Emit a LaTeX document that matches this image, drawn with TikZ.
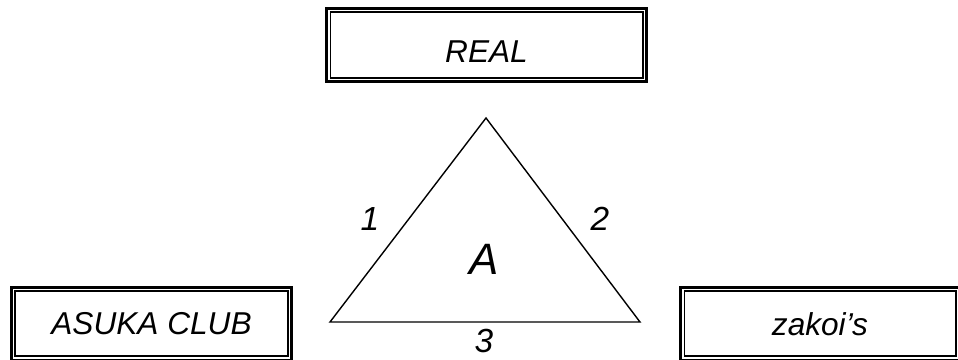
\documentclass[tikz,border=0pt]{standalone}
\usepackage{fontspec}
\setmainfont{Liberation Sans}
\usepackage{tikz}
\usetikzlibrary{positioning}
\tikzset{
  framebox/.style={draw, line width=1.7pt, inner sep=0pt, outer sep=0pt, align=center,
    font=\fontsize{18}{21}\selectfont\itshape},
  innerframe/.style={line width=1pt},
  sidelabel/.style={inner sep=0pt, font=\fontsize{19}{22}\selectfont\itshape},
  triline/.style={line width=0.8pt, line join=miter}
}

\begin{document}
\begin{tikzpicture}[x=0.02cm, y=-0.02cm]
  \clip (0,0) rectangle (958,359);
  \node[framebox, minimum width=6.4cm, minimum height=1.46cm, text height=0.70cm, text depth=0pt] (real) at (486.5,45) {REAL};
  \node[framebox, minimum width=5.6cm, minimum height=1.45cm] (asuka) at (151.5,323.75) {ASUKA CLUB};
  \node[framebox, minimum width=5.58cm, minimum height=1.45cm] (zakoi) at (820,323.75) {zakoi's};
  \foreach \frm in {real, asuka, zakoi}
    \draw[innerframe] ([shift={(0.077cm,-0.077cm)}]\frm.north west) rectangle ([shift={(-0.077cm,0.077cm)}]\frm.south east);
  % triangle
  \coordinate (apex) at (486,118);
  \coordinate (left) at (330,322);
  \coordinate (right) at (640,322);
  \draw[triline] (apex) -- (right) -- (left) -- cycle;
  \node[sidelabel] (one) at (370,219) {1};
  \node[sidelabel] (two) at (600,219) {2};
  \node[sidelabel] (three) at (484,341) {3};
  \node[inner sep=0pt, font=\fontsize{25}{30}\selectfont\itshape] (area) at (484,259) {A};
\end{tikzpicture}
\end{document}
